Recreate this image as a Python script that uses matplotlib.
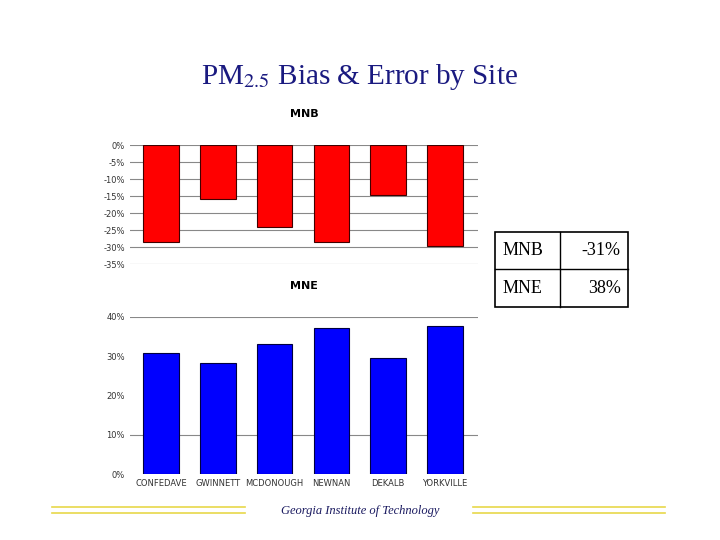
import matplotlib
matplotlib.use("Agg")
import matplotlib.pyplot as plt
from matplotlib.patches import Rectangle

plt.rcParams["mathtext.fontset"] = "stix"

sites = ["CONFEDAVE", "GWINNETT", "MCDONOUGH", "NEWNAN", "DEKALB", "YORKVILLE"]
mnb = [-28.5, -15.7, -24.0, -28.5, -14.8, -29.6]
mne = [30.8, 28.2, 33.1, 37.1, 29.5, 37.7]
table_rows = [("MNB", "-31%"), ("MNE", "38%")]

fig = plt.figure(figsize=(7.2, 5.4), dpi=100)
fig.text(0.5, 0.845, r"PM$_{\mathrm{2.5}}$ Bias & Error by Site", ha="center", fontsize=21,
         family="Liberation Serif", color="#1a1a80")

x = list(range(len(sites)))
ax1 = fig.add_axes([0.18, 0.511, 0.484, 0.22])
ax1.bar(x, mnb, width=0.63, color="#ff0000", edgecolor="#400000", linewidth=0.8, zorder=3)
ax1.set_ylim(-35, 0)
ax1.set_xlim(-0.55, 5.58)
ax1.set_yticks(range(-35, 1, 5))
ax1.set_yticklabels([f"{v}%" for v in range(-35, 1, 5)])
ax1.grid(axis="y", color="#888888", linewidth=0.8, zorder=0)
ax1.set_xticks([])
ax1.set_title("MNB", fontsize=8, fontweight="bold", pad=20)

ax2 = fig.add_axes([0.18, 0.122, 0.484, 0.291])
ax2.bar(x, mne, width=0.63, color="#0000ff", edgecolor="#000040", linewidth=0.8, zorder=3)
ax2.set_ylim(0, 40)
ax2.set_xlim(-0.55, 5.58)
ax2.set_yticks([0, 10, 20, 30, 40])
ax2.set_yticklabels([f"{v}%" for v in [0, 10, 20, 30, 40]])
for v in (10, 40):
    ax2.axhline(v, color="#888888", linewidth=0.8, zorder=0)
ax2.set_xticks(x)
ax2.set_xticklabels(sites)
ax2.set_title("MNE", fontsize=8, fontweight="bold", pad=20)

for ax in (ax1, ax2):
    for s in ax.spines.values():
        s.set_visible(False)
    ax.tick_params(length=0, labelsize=6, colors="#333333")

# table
tx0, tx1, tmid = 495/720, 628/720, 560/720
ty0, ty1 = 1-307/540, 1-232/540
fig.add_artist(Rectangle((tx0, ty0), tx1-tx0, ty1-ty0, transform=fig.transFigure,
                         fill=False, edgecolor="black", linewidth=1.2))
fig.add_artist(plt.Line2D([tmid, tmid], [ty0, ty1], transform=fig.transFigure, color="black", lw=1))
fig.add_artist(plt.Line2D([tx0, tx1], [(ty0+ty1)/2]*2, transform=fig.transFigure, color="black", lw=1))
for i, (a, b) in enumerate(table_rows):
    yc = ty1 - (i+0.5)*(ty1-ty0)/2
    fig.text(tx0+0.01, yc, a, va="center", fontsize=13, family="Liberation Serif")
    fig.text(tx1-0.01, yc, b, va="center", ha="right", fontsize=13, family="Liberation Serif")

# footer
for yy in (1-507/540, 1-513/540):
    fig.add_artist(plt.Line2D([52/720, 245/720], [yy, yy], transform=fig.transFigure, color="#e8d84a", lw=1.2))
    fig.add_artist(plt.Line2D([473/720, 665/720], [yy, yy], transform=fig.transFigure, color="#e8d84a", lw=1.2))
fig.text(360/720, 1-511/540, "Georgia Institute of Technology", ha="center", va="center",
         fontsize=9, style="italic", family="Liberation Serif", color="#1a1a60")

fig.savefig("out.png", dpi=100)
